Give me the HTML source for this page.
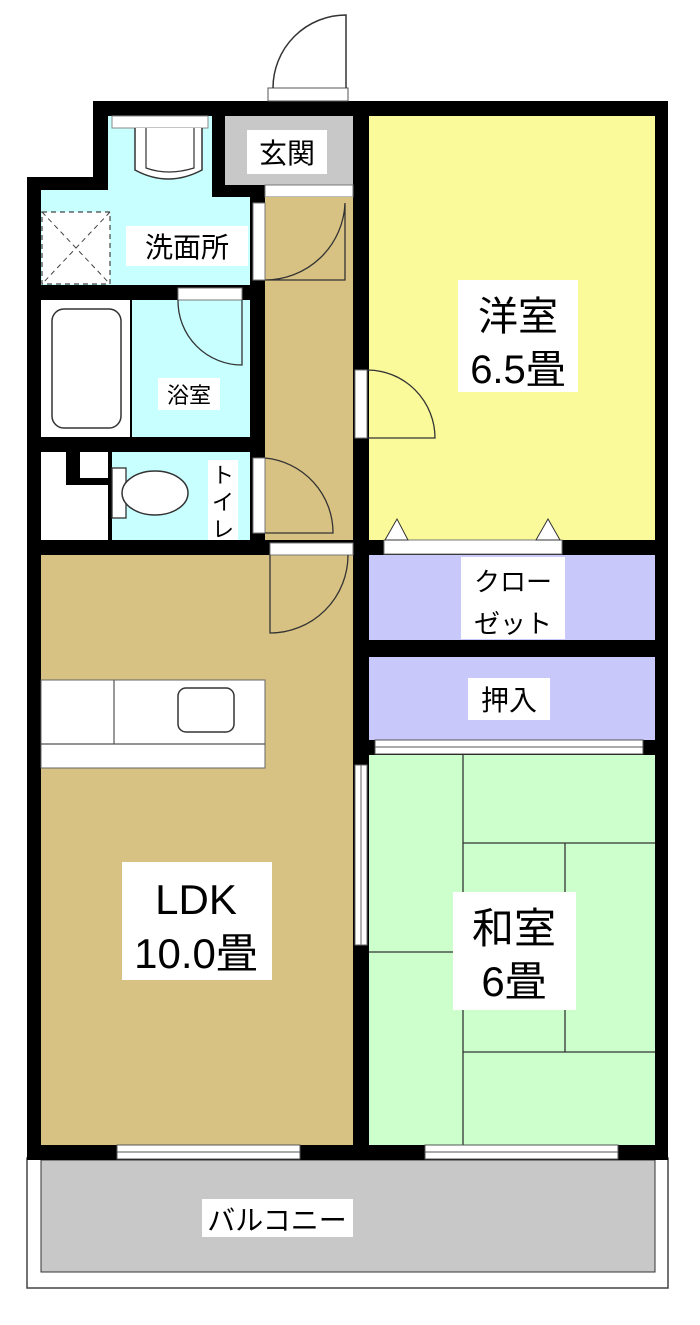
<!DOCTYPE html>
<html><head><meta charset="utf-8"><style>
html,body{margin:0;padding:0;background:#fff;}
svg{display:block;}
text{font-family:"Liberation Sans","Noto Sans CJK JP",sans-serif;fill:#000;}
</style></head><body>
<svg width="700" height="1325" viewBox="0 0 700 1325" xmlns="http://www.w3.org/2000/svg">
<rect width="700" height="1325" fill="#fff"/>
<!-- balcony -->
<rect x="27" y="1158" width="641" height="130" fill="#fff" stroke="#444" stroke-width="1.5"/>
<rect x="41" y="1160" width="614" height="112" fill="#c8c8c8" stroke="#333" stroke-width="1"/>
<!-- black building mass -->
<path d="M93,101 H668 V1160 H27 V177 H93 Z" fill="#000"/>
<!-- entrance door -->
<rect x="268" y="88" width="80" height="13" fill="#fff" stroke="#555" stroke-width="1"/>
<path d="M346,88 V15 A73,73 0 0 0 273,88" fill="none" stroke="#333" stroke-width="1.5"/>
<!-- genkan -->
<rect x="225" y="116" width="128" height="69" fill="#c8c8c8"/>
<rect x="265" y="185" width="88" height="12" fill="#fff" stroke="#777" stroke-width="1"/>
<!-- washroom -->
<path d="M108,116 H212 V197 H250 V285 H41 V190 H108 Z" fill="#c8ffff"/>
<rect x="112" y="116" width="96" height="12" fill="#fff" stroke="#888" stroke-width="1"/>
<path d="M135,128 V170 Q168,188 202,170 V128" fill="#fff" stroke="#333" stroke-width="1.5"/>
<path d="M146,128 V168 Q168,176 194,168 V128" fill="none" stroke="#333" stroke-width="1.2"/>
<rect x="42" y="212" width="68" height="72" fill="#fff" stroke="#444" stroke-width="1.2" stroke-dasharray="5,4"/>
<path d="M42,212 L110,284 M110,212 L42,284" stroke="#444" stroke-width="1" stroke-dasharray="5,4"/>
<!-- hallway -->
<rect x="265" y="197" width="88" height="343" fill="#d8c283"/>
<rect x="253" y="203" width="12" height="77" fill="#fff" stroke="#777" stroke-width="1"/>
<path d="M265,280 H345 V203 M265,280 A80,80 0 0 0 345,203" fill="none" stroke="#333" stroke-width="1.3"/>
<rect x="253" y="458" width="12" height="75" fill="#fff" stroke="#777" stroke-width="1"/>
<path d="M265,458 A75,75 0 0 1 333,533 H265" fill="none" stroke="#333" stroke-width="1.3"/>
<!-- bath -->
<rect x="41" y="300" width="89" height="137" fill="#fff"/>
<rect x="52" y="309" width="69" height="119" rx="12" fill="#fff" stroke="#333" stroke-width="1.5"/>
<rect x="132" y="300" width="118" height="137" fill="#c8ffff"/>
<rect x="178" y="288" width="64" height="12" fill="#fff" stroke="#777" stroke-width="1"/>
<path d="M178,300 A64,64 0 0 0 242,365 V300" fill="none" stroke="#333" stroke-width="1.3"/>
<!-- toilet -->
<rect x="41" y="452" width="67" height="88" fill="#fff"/>
<path d="M66,452 H80 V478 H108 V485 H66 Z" fill="#000"/>
<rect x="80" y="452" width="28" height="24" fill="#fff"/>
<rect x="112" y="452" width="138" height="88" fill="#c8ffff"/>
<rect x="112" y="468" width="14" height="50" fill="#fff" stroke="#333" stroke-width="1.3"/>
<ellipse cx="155" cy="493" rx="33" ry="22" fill="#fff" stroke="#333" stroke-width="1.5"/>
<!-- LDK -->
<rect x="41" y="555" width="312" height="590" fill="#d8c283"/>
<rect x="270" y="543" width="83" height="12" fill="#fff" stroke="#777" stroke-width="1"/>
<path d="M270,555 V633 A78,78 0 0 0 348,555" fill="none" stroke="#333" stroke-width="1.3"/>
<rect x="41" y="680" width="224" height="88" fill="#fff" stroke="#666" stroke-width="1"/>
<line x1="114" y1="680" x2="114" y2="744" stroke="#555" stroke-width="1.2"/>
<line x1="41" y1="744" x2="265" y2="744" stroke="#555" stroke-width="1.2"/>
<rect x="178" y="688" width="56" height="44" rx="8" fill="#fff" stroke="#333" stroke-width="1.5"/>
<rect x="355" y="765" width="12" height="180" fill="#fff" stroke="#666" stroke-width="1"/>
<line x1="361" y1="765" x2="361" y2="945" stroke="#666" stroke-width="1"/>
<!-- yellow room -->
<rect x="369" y="116" width="286" height="424" fill="#fafa9a"/>
<rect x="355" y="370" width="12" height="68" fill="#fff" stroke="#777" stroke-width="1"/>
<path d="M367,370 A68,68 0 0 1 435,438 H367" fill="none" stroke="#333" stroke-width="1.3"/>
<rect x="384" y="540" width="178" height="14" fill="#fff" stroke="#777" stroke-width="1"/>
<path d="M385,540 L397,519 L408,540 Z M536,540 L548,519 L560,540 Z" fill="#fff" stroke="#333" stroke-width="1"/>
<!-- closet / oshiire -->
<rect x="369" y="555" width="286" height="85" fill="#c8c8fa"/>
<rect x="369" y="657" width="286" height="83" fill="#c8c8fa"/>
<rect x="375" y="740" width="268" height="14" fill="#fff" stroke="#555" stroke-width="1"/>
<line x1="375" y1="747" x2="643" y2="747" stroke="#555" stroke-width="1"/>
<!-- washitsu -->
<rect x="369" y="755" width="286" height="390" fill="#ccffcc"/>
<g stroke="#333" stroke-width="1.3" fill="none">
<line x1="463" y1="755" x2="463" y2="1145"/>
<line x1="369" y1="952" x2="463" y2="952"/>
<line x1="463" y1="843" x2="655" y2="843"/>
<line x1="565" y1="843" x2="565" y2="1052"/>
<line x1="463" y1="1052" x2="655" y2="1052"/>
</g>
<!-- windows bottom -->
<rect x="117" y="1145" width="183" height="14" fill="#fff" stroke="#555" stroke-width="1"/>
<line x1="117" y1="1152" x2="300" y2="1152" stroke="#555" stroke-width="1"/>
<rect x="425" y="1145" width="193" height="14" fill="#fff" stroke="#555" stroke-width="1"/>
<line x1="425" y1="1152" x2="618" y2="1152" stroke="#555" stroke-width="1"/>
<!-- labels -->
<rect x="247" y="130" width="80" height="44" fill="#fff"/>
<text x="287" y="163" font-size="28" text-anchor="middle">玄関</text>
<rect x="126" y="226" width="122" height="40" fill="#fff"/>
<text x="187" y="257" font-size="28" text-anchor="middle">洗面所</text>
<rect x="158" y="378" width="62" height="32" fill="#fff"/>
<text x="189" y="403" font-size="22" text-anchor="middle">浴室</text>
<rect x="208" y="460" width="30" height="80" fill="#fff"/>
<text x="223" y="483" font-size="22" text-anchor="middle">ト</text>
<text x="223" y="510" font-size="22" text-anchor="middle">イ</text>
<text x="223" y="537" font-size="22" text-anchor="middle">レ</text>
<rect x="458" y="280" width="120" height="112" fill="#fff"/>
<text x="518" y="330" font-size="40" text-anchor="middle">洋室</text>
<text x="518" y="383" font-size="40" text-anchor="middle">6.5畳</text>
<rect x="461" y="557" width="104" height="82" fill="#fff"/>
<text x="513" y="591" font-size="26" text-anchor="middle">クロー</text>
<text x="513" y="633" font-size="26" text-anchor="middle">ゼット</text>
<rect x="468" y="678" width="82" height="42" fill="#fff"/>
<text x="509" y="710" font-size="28" text-anchor="middle">押入</text>
<rect x="122" y="862" width="150" height="118" fill="#fff"/>
<text x="196" y="914" font-size="42" text-anchor="middle">LDK</text>
<text x="196" y="968" font-size="42" text-anchor="middle">10.0畳</text>
<rect x="453" y="892" width="123" height="118" fill="#fff"/>
<text x="514" y="943" font-size="42" text-anchor="middle">和室</text>
<text x="514" y="996" font-size="42" text-anchor="middle">6畳</text>
<rect x="202" y="1199" width="151" height="38" fill="#fff"/>
<text x="277" y="1230" font-size="28" text-anchor="middle">バルコニー</text>
</svg>
</body></html>
